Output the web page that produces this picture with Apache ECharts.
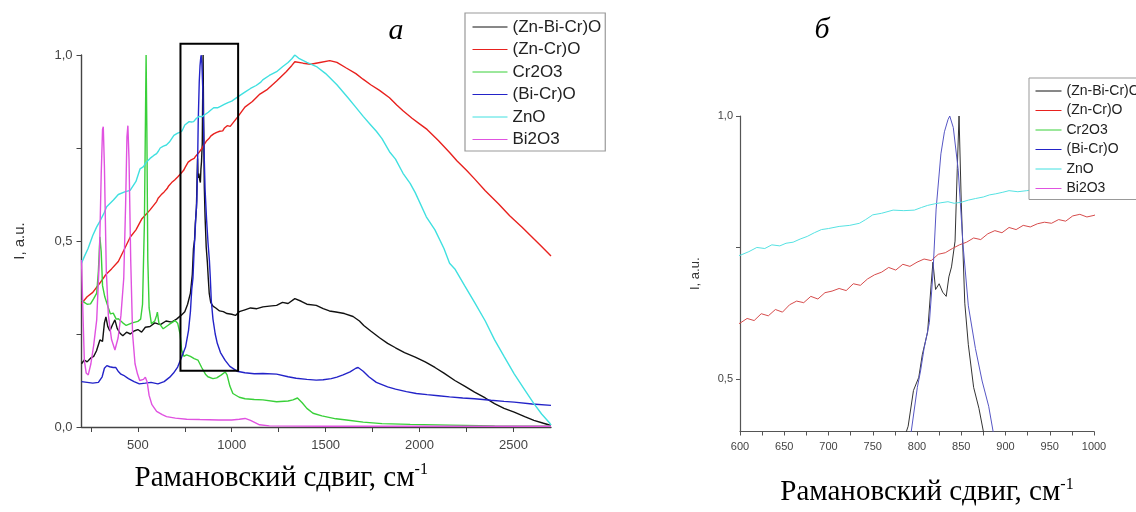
<!DOCTYPE html>
<html><head><meta charset="utf-8">
<script src="https://cdn.jsdelivr.net/npm/echarts@6/dist/echarts.min.js"></script>
<style>html,body{margin:0;padding:0;background:#fff}#c{width:1136px;height:512px}</style>
</head><body><div id="c"></div>
<script>
// ---- data (Raman shift, cm^-1 ; normalized intensity) ----
const seriesNames = ['(Zn-Bi-Cr)O', '(Zn-Cr)O', 'Cr2O3', '(Bi-Cr)O', 'ZnO', 'Bi2O3'];

const znBiCrO = [[200,0.17],[215,0.18],[230,0.175],[248,0.185],[265,0.19],[280,0.205],[298,0.234],[312,0.23],[322,0.28],[330,0.296],[340,0.27],[351,0.258],[365,0.275],[378,0.288],[390,0.265],[405,0.252],[420,0.245],[440,0.255],[460,0.25],[480,0.258],[500,0.262],[520,0.255],[540,0.268],[565,0.27],[590,0.28],[620,0.275],[650,0.285],[680,0.282],[706,0.29],[730,0.3],[750,0.31],[765,0.33],[780,0.36],[790,0.41],[796,0.478],[802,0.503],[806,0.546],[812,0.589],[816,0.68],[818,0.722],[821,0.67],[825,0.681],[829,0.665],[833,0.657],[836,0.694],[839,0.713],[843,0.762],[845.5,0.9],[847.5,1.0],[850,0.836],[854,0.644],[858,0.565],[864,0.484],[870,0.444],[875,0.40],[880,0.36],[888,0.335],[900,0.325],[915,0.32],[935,0.312],[955,0.31],[975,0.305],[1000,0.303],[1020,0.3],[1040,0.31],[1070,0.315],[1100,0.32],[1134,0.318],[1166,0.323],[1200,0.325],[1239,0.327],[1270,0.335],[1300,0.332],[1336,0.345],[1370,0.338],[1400,0.33],[1450,0.327],[1487,0.318],[1520,0.312],[1555,0.309],[1600,0.305],[1646,0.297],[1680,0.285],[1703,0.273],[1740,0.258],[1787,0.24],[1830,0.225],[1872,0.213],[1920,0.2],[1977,0.188],[2030,0.175],[2082,0.16],[2130,0.145],[2188,0.125],[2240,0.11],[2293,0.094],[2350,0.078],[2399,0.063],[2450,0.05],[2504,0.04],[2560,0.028],[2609,0.018],[2660,0.01],[2700,0.004]];

const znCrO = [[200,0.332],[230,0.35],[260,0.362],[298,0.387],[330,0.41],[360,0.425],[396,0.445],[430,0.48],[459,0.51],[490,0.53],[522,0.56],[564,0.583],[600,0.606],[608,0.615],[616,0.611],[624,0.624],[632,0.62],[640,0.632],[648,0.627],[656,0.641],[664,0.648],[672,0.645],[680,0.657],[688,0.652],[696,0.664],[704,0.667],[712,0.672],[720,0.668],[728,0.681],[736,0.678],[744,0.69],[752,0.698],[760,0.703],[768,0.712],[776,0.707],[784,0.718],[792,0.714],[800,0.722],[808,0.728],[816,0.725],[824,0.737],[832,0.74],[840,0.748],[848,0.755],[856,0.76],[864,0.768],[872,0.765],[880,0.776],[888,0.782],[896,0.778],[904,0.788],[912,0.784],[920,0.792],[928,0.789],[936,0.795],[944,0.798],[952,0.796],[960,0.803],[968,0.8],[976,0.81],[984,0.813],[992,0.808],[1000,0.811],[1034,0.835],[1070,0.86],[1110,0.875],[1150,0.895],[1186,0.906],[1239,0.93],[1290,0.955],[1320,0.972],[1336,0.982],[1380,0.978],[1420,0.975],[1470,0.98],[1522,0.985],[1560,0.98],[1610,0.965],[1661,0.95],[1699,0.935],[1740,0.92],[1787,0.905],[1840,0.885],[1880,0.865],[1912,0.85],[1960,0.83],[2000,0.815],[2040,0.8],[2100,0.77],[2160,0.738],[2200,0.715],[2250,0.69],[2293,0.667],[2350,0.635],[2420,0.6],[2480,0.568],[2546,0.537],[2600,0.51],[2650,0.485],[2700,0.46]];

const cr2O3 = [[200,0.341],[215,0.335],[230,0.33],[248,0.331],[265,0.345],[281,0.36],[290,0.42],[298,0.511],[305,0.47],[312,0.38],[324,0.35],[340,0.325],[354,0.304],[369,0.306],[385,0.29],[396,0.291],[420,0.28],[438,0.273],[470,0.28],[500,0.284],[515,0.29],[525,0.33],[535,0.55],[541,0.85],[544,1.0],[548,0.8],[553,0.45],[560,0.32],[572,0.278],[590,0.285],[600,0.3],[604,0.309],[612,0.28],[635,0.264],[665,0.275],[698,0.286],[712,0.279],[725,0.25],[733,0.207],[745,0.19],[759,0.194],[780,0.19],[800,0.184],[820,0.18],[840,0.16],[860,0.142],[873,0.135],[900,0.13],[920,0.132],[945,0.14],[965,0.148],[975,0.14],[990,0.11],[1006,0.09],[1040,0.08],[1071,0.076],[1120,0.074],[1166,0.073],[1239,0.068],[1300,0.07],[1326,0.073],[1350,0.078],[1375,0.065],[1400,0.05],[1433,0.037],[1480,0.03],[1555,0.022],[1611,0.019],[1700,0.013],[1800,0.009],[1950,0.007],[2160,0.005],[2400,0.003],[2700,0.002]];

const biCrO = [[200,0.122],[230,0.12],[260,0.118],[290,0.12],[310,0.135],[322,0.158],[335,0.165],[350,0.162],[369,0.16],[382,0.16],[395,0.15],[410,0.142],[424,0.139],[450,0.13],[480,0.122],[508,0.116],[540,0.118],[570,0.12],[607,0.116],[640,0.122],[670,0.134],[690,0.145],[712,0.161],[735,0.19],[754,0.215],[770,0.26],[780,0.31],[787,0.37],[793.5,0.4],[800.4,0.484],[804,0.515],[808,0.558],[814,0.607],[818,0.70],[821.6,0.823],[827,0.928],[831,0.97],[835,0.993],[837,1.0],[841,0.978],[846.6,0.897],[852,0.755],[858,0.639],[866,0.558],[873.6,0.496],[881,0.448],[886,0.4],[891,0.34],[900,0.29],[912,0.25],[923,0.225],[940,0.2],[965,0.179],[990,0.163],[1028,0.15],[1070,0.146],[1120,0.143],[1166,0.144],[1239,0.142],[1300,0.135],[1343,0.131],[1400,0.128],[1450,0.126],[1487,0.127],[1530,0.13],[1560,0.134],[1593,0.14],[1630,0.148],[1661,0.158],[1673,0.16],[1700,0.15],[1730,0.135],[1770,0.12],[1830,0.108],[1872,0.102],[1930,0.095],[1983,0.09],[2040,0.087],[2100,0.084],[2160,0.081],[2230,0.078],[2293,0.076],[2380,0.072],[2450,0.069],[2504,0.067],[2600,0.062],[2700,0.058]];

const znO = [[200,0.44],[215,0.458],[235,0.48],[260,0.515],[281,0.538],[300,0.555],[320,0.575],[334,0.592],[350,0.6],[370,0.61],[396,0.625],[430,0.632],[459,0.636],[490,0.66],[512,0.694],[530,0.7],[545,0.712],[565,0.722],[585,0.73],[600,0.735],[610,0.742],[619,0.75],[628,0.748],[636,0.755],[645,0.753],[652,0.758],[660,0.76],[668,0.766],[676,0.771],[684,0.778],[692,0.784],[700,0.786],[712,0.79],[724,0.792],[735,0.796],[742,0.803],[750,0.812],[760,0.815],[773,0.821],[785,0.82],[797,0.821],[805,0.826],[812,0.83],[820,0.833],[827,0.835],[835,0.837],[842,0.834],[850,0.836],[858,0.84],[866,0.843],[875,0.846],[882,0.85],[889,0.852],[897,0.855],[904,0.858],[914,0.856],[924,0.858],[940,0.862],[960,0.867],[980,0.872],[1000,0.876],[1034,0.888],[1070,0.9],[1100,0.91],[1130,0.918],[1155,0.927],[1165,0.933],[1200,0.945],[1239,0.955],[1272,0.969],[1300,0.98],[1320,0.99],[1336,1.0],[1360,0.99],[1400,0.98],[1451,0.969],[1500,0.95],[1560,0.92],[1619,0.885],[1660,0.86],[1700,0.835],[1740,0.812],[1770,0.795],[1800,0.775],[1840,0.74],[1872,0.72],[1912,0.682],[1950,0.655],[1977,0.63],[2036,0.565],[2082,0.53],[2130,0.48],[2160,0.44],[2188,0.425],[2240,0.38],[2293,0.335],[2350,0.285],[2399,0.235],[2450,0.19],[2504,0.143],[2560,0.1],[2609,0.063],[2650,0.035],[2694,0.01],[2700,0.005]];

const bi2O3 = [[200,0.449],[208,0.3],[215,0.18],[225,0.145],[236,0.14],[250,0.17],[265,0.22],[281,0.288],[295,0.45],[305,0.68],[312,0.8],[316,0.807],[322,0.7],[332,0.42],[343,0.3],[360,0.235],[378,0.207],[395,0.24],[410,0.3],[425,0.4],[435,0.6],[442,0.78],[447,0.81],[453,0.72],[462,0.45],[472,0.25],[485,0.17],[498,0.143],[510,0.125],[519,0.121],[530,0.128],[540,0.134],[550,0.12],[560,0.085],[575,0.06],[600,0.042],[630,0.033],[653,0.028],[700,0.024],[760,0.021],[830,0.02],[930,0.019],[1000,0.019],[1040,0.021],[1071,0.023],[1100,0.018],[1148,0.006],[1200,0.003],[1500,0.002],[2700,0.002]];

const seriesData = [znBiCrO, znCrO, cr2O3, biCrO, znO, bi2O3];

// axis ticks / labels
const xTicksA = [250, 500, 750, 1000, 1250, 1500, 1750, 2000, 2250, 2500];
const xLabelsA = [500, 1000, 1500, 2000, 2500];
const yTicksA = [0, 0.25, 0.5, 0.75, 1.0];
const yLabelsA = [0, 0.5, 1.0];
const xTicksB = [600, 625, 650, 675, 700, 725, 750, 775, 800, 825, 850, 875, 900, 925, 950, 975, 1000];
const xLabelsB = [600, 650, 700, 750, 800, 850, 900, 950, 1000];
const yTicksB = [0.5, 0.75, 1.0];
const yLabelsB = [0.5, 1.0];

// highlighted region on panel a (data coordinates)
const boxX = [727, 1034];
const boxY = [0.151, 1.03];

const colorsA = ['#111111', '#e8211e', '#39d039', '#2323c8', '#40e0e0', '#e052e0'];
const colorsB = ['#333333', '#d64c4c', '#3cc83c', '#5656c4', '#55e2e2', '#d060d0'];

const comma = v => v.toFixed(1).replace('.', ',');
const plain = v => String(v);
const xNameRich = {
  m: {fontFamily: 'Liberation Serif', fontSize: 29, color: '#000', lineHeight: 32},
  s: {fontFamily: 'Liberation Serif', fontSize: 16, color: '#000', verticalAlign: 'top', lineHeight: 32}
};
const xName = '{m|Рамановский сдвиг, см}{s|-1}';

const chart = echarts.init(document.getElementById('c'), null, {renderer: 'canvas'});

const series = [];
seriesNames.forEach((n, i) => {
  series.push({type: 'line', name: n, xAxisIndex: 0, yAxisIndex: 0, data: seriesData[i],
    symbol: 'none', color: colorsA[i], lineStyle: {width: 1.4, color: colorsA[i]}, animation: false, z: 2});
});
seriesNames.forEach((n, i) => {
  series.push({type: 'line', name: n, xAxisIndex: 1, yAxisIndex: 1, data: seriesData[i],
    symbol: 'none', color: colorsB[i], lineStyle: {width: 1, color: colorsB[i]}, animation: false, z: 2});
});

const axisCommon = {
  axisLine: {show: true, lineStyle: {color: '#444', width: 1.4}},
  splitLine: {show: false},
};

chart.setOption({
  backgroundColor: '#fff',
  animation: false,
  grid: [
    {left: 81.5, top: 55, width: 469.5, height: 372},
    {left: 740, top: 116, width: 354, height: 323}
  ],
  xAxis: [
    Object.assign({}, axisCommon, {type: 'value', gridIndex: 0, min: 200, max: 2700,
      axisTick: {show: true, length: 5, customValues: xTicksA, lineStyle: {color: '#444'}},
      axisLabel: {customValues: xLabelsA, formatter: plain, margin: 12, fontSize: 13, fontFamily: 'Liberation Sans', color: '#444'},
      name: xName, nameLocation: 'middle', nameGap: 35,
      nameTextStyle: {rich: xNameRich, padding: [0, 70, 0, 0]}}),
    Object.assign({}, axisCommon, {type: 'value', gridIndex: 1, min: 600, max: 1000,
      axisLine: {show: true, lineStyle: {color: '#555', width: 1.2}},
      axisTick: {show: true, length: 4, customValues: xTicksB, lineStyle: {color: '#555'}},
      axisLabel: {customValues: xLabelsB, formatter: plain, margin: 10, fontSize: 11, fontFamily: 'Liberation Sans', color: '#444'},
      name: xName, nameLocation: 'middle', nameGap: 45,
      nameTextStyle: {rich: xNameRich, padding: [0, 0, 0, 20]}})
  ],
  yAxis: [
    Object.assign({}, axisCommon, {type: 'value', gridIndex: 0, min: 0, max: 1,
      axisTick: {show: true, length: 5, customValues: yTicksA, lineStyle: {color: '#444'}},
      axisLabel: {customValues: yLabelsA, formatter: comma, margin: 9, fontSize: 13, fontFamily: 'Liberation Sans', color: '#444'},
      name: 'I, a.u.', nameLocation: 'middle', nameGap: 54,
      nameTextStyle: {fontSize: 15, fontFamily: 'Liberation Sans', color: '#333'}}),
    Object.assign({}, axisCommon, {type: 'value', gridIndex: 1, min: 0.4, max: 1.0,
      axisLine: {show: true, lineStyle: {color: '#555', width: 1.2}},
      axisTick: {show: true, length: 4, customValues: yTicksB, lineStyle: {color: '#555'}},
      axisLabel: {customValues: yLabelsB, formatter: comma, margin: 7, fontSize: 11, fontFamily: 'Liberation Sans', color: '#444'},
      name: 'I, a.u.', nameLocation: 'middle', nameGap: 38,
      nameTextStyle: {fontSize: 13, fontFamily: 'Liberation Sans', color: '#333'}})
  ],
  legend: [
    {data: seriesNames, orient: 'vertical', left: 465, top: 13, padding: [5.5, 4, 3, 7],
      itemWidth: 35, itemHeight: 17, itemGap: 5.5, selectedMode: false,
      backgroundColor: '#fff', borderColor: '#999', borderWidth: 1.2,
      lineStyle: {width: 1}, itemStyle: {opacity: 0, borderWidth: 0},
      textStyle: {fontSize: 17, lineHeight: 17, fontFamily: 'Liberation Sans', color: '#222'}},
    {data: seriesNames, orient: 'vertical', left: 1029, top: 78, padding: [6, 4, 4, 6],
      itemWidth: 26, itemHeight: 14, itemGap: 5.5, selectedMode: false,
      backgroundColor: '#fff', borderColor: '#999', borderWidth: 1,
      lineStyle: {width: 1}, itemStyle: {opacity: 0, borderWidth: 0},
      textStyle: {fontSize: 14, lineHeight: 14, fontFamily: 'Liberation Sans', color: '#222'}}
  ],
  series: series
});

function drawExtras() {
  const p1 = chart.convertToPixel({xAxisIndex: 0, yAxisIndex: 0}, [boxX[0], boxY[1]]);
  const p2 = chart.convertToPixel({xAxisIndex: 0, yAxisIndex: 0}, [boxX[1], boxY[0]]);
  chart.setOption({
    graphic: [
      {type: 'rect', id: 'box', z: 10, shape: {x: p1[0], y: p1[1], width: p2[0] - p1[0], height: p2[1] - p1[1]},
        style: {fill: 'none', stroke: '#000', lineWidth: 2}},
      {type: 'text', id: 'ta', z: 10, x: 396, y: 31, style: {text: 'а', font: 'italic 30px "Liberation Serif"', fill: '#000', textAlign: 'center', textVerticalAlign: 'middle'}},
      {type: 'text', id: 'tb', z: 10, x: 822, y: 30, style: {text: 'б', font: 'italic 30px "Liberation Serif"', fill: '#000', textAlign: 'center', textVerticalAlign: 'middle'}}
    ]
  });
}
drawExtras();
</script>
</body></html>
